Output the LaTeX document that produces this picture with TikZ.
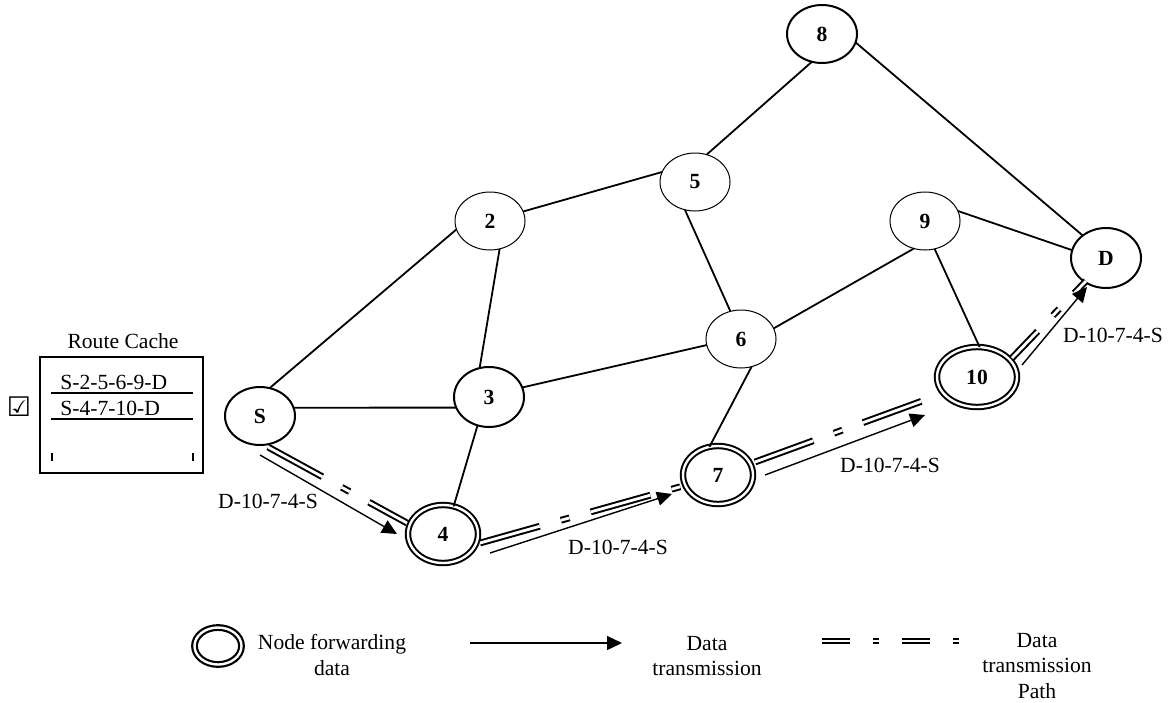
\documentclass[tikz,border=0pt]{standalone}
\usepackage{fontspec}
\setmainfont{Liberation Serif}
\newfontfamily\symbolfont{DejaVu Sans}
\usepackage{tikz}
\usetikzlibrary{arrows.meta, shapes.geometric}

\begin{document}
\begin{tikzpicture}[
  x=0.5pt, y=-0.5pt,
  font=\fontsize{10.8pt}{12.6pt}\selectfont,
  host/.style={ellipse, draw, line width=1pt, minimum width=35pt, minimum height=29pt,
               inner sep=0pt, outer sep=0pt, font=\fontsize{10.8pt}{12.6pt}\selectfont\bfseries},
  thinhost/.style={host, line width=0.5pt},
  relay/.style={host, double, double distance=1.2pt},
  link/.style={line width=0.9pt},
  route/.style={double, line width=1pt, double distance=1.4pt,
                dash pattern=on 31pt off 11pt on 4.5pt off 11pt},
  hop/.style={line width=0.7pt, -{Triangle[length=7.5pt, width=7pt]}},
  hoplabel/.style={inner sep=0pt}
]
\useasboundingbox (0,0) rectangle (1170,702);

% network nodes
\node[host]     (src) at (260,416) {S};
\node[thinhost] (n2)  at (490,221) {2};
\node[host, minimum height=30pt] (n3) at (489,397) {3};
\node[relay]    (n4)  at (443,534) {4};
\node[thinhost] (n5)  at (695,182) {5};
\node[thinhost] (n6)  at (741,339) {6};
\node[relay]    (n7)  at (718,475) {7};
\node[host]     (n8)  at (822,34)  {8};
\node[thinhost] (n9)  at (925,221) {9};
\node[relay, minimum width=40pt, minimum height=30pt] (n10) at (977,377) {10};
\node[host, minimum height=30pt] (dst) at (1106,258) {D};

% links
\draw[link] (src.71)  -- (n2.194);
\draw[link] (src.14)  -- (n3.198);
\draw[link] (n2.-71)  -- (n3.108);
\draw[link] (n3.-112) -- (n4.69);
\draw[link] (n3.16)   -- (n6.190);
\draw[link] (n2.16)   -- (n5.163);
\draw[link] (n5.67)   -- (n8.-110);
\draw[link] (n5.-110) -- (n6.111);
\draw[link] (n6.18)   -- (n9.-112);
\draw[link] (n6.-69)  -- (n7.107);
\draw[link] (n9.-71)  -- (n10.85);
\draw[link] (n9.17)   -- (dst.167);
\draw[link] (n8.-14)  -- (dst.136);

% data path S-4-7-10-D
\draw[route] ([shift={(8,31)}]src.center)  -- ([shift={(-36,-11)}]n4.center);
\draw[hop]   ([shift={(0,39)}]src.center)  -- ([shift={(-46,0)}]n4.center);
\draw[route] ([shift={(37,9)}]n4.center)   -- ([shift={(-35,11)}]n7.center);
\draw[hop]   ([shift={(47,19)}]n4.center)  -- ([shift={(-46,19)}]n7.center);
\draw[route] ([shift={(37,-13)}]n7.center) -- ([shift={(-52,23)}]n10.center);
\draw[hop]   ([shift={(47,0)}]n7.center)   -- ([shift={(-52,38)}]n10.center);
\draw[route, dash phase=12.5pt] ([shift={(35,-19)}]n10.center) -- ([shift={(-20,23)}]dst.center);
\draw[hop]   ([shift={(45,-12)}]n10.center) -- ([shift={(-19,29)}]dst.center);

\node[hoplabel] (lab1) at (268,501)  {D-10-7-4-S};
\node[hoplabel] (lab2) at (618,547)  {D-10-7-4-S};
\node[hoplabel] (lab3) at (890,465)  {D-10-7-4-S};
\node[hoplabel] (lab4) at (1113,335) {D-10-7-4-S};

% route cache
\node (cachetitle) at (123,341) {Route Cache};
\node[draw, line width=1pt, minimum width=81.5pt, minimum height=58pt, inner sep=0pt] (cache) at (121.5,415) {};
\node[hoplabel, anchor=west] (entry1) at (60,382) {S-2-5-6-9-D};
\node[hoplabel, anchor=west] (entry2) at (60,408) {S-4-7-10-D};
\draw[link] (51,393) -- (193,393);
\draw[link] (51,419) -- (193,419);
\draw[line width=1pt] (52,453) -- (52,461);
\draw[line width=1pt] (193,453) -- (193,461);
\node[inner sep=0pt] (tick) at (19,407) {\fontsize{13.5pt}{14pt}\symbolfont ☑};

% legend
\node[relay, minimum width=23.5pt, minimum height=18.5pt, line width=1.1pt] (keynode) at (218,646) {};
\node[align=center] (keynodetext) at (332,655) {Node forwarding\\data};
\coordinate (keyfrom) at (470,643);
\coordinate (keyto) at (622,643);
\draw[hop] (keyfrom) -- (keyto);
\node[align=center] (keyhoptext) at (707,656) {Data\\transmission};
\coordinate (pathfrom) at (822,641);
\coordinate (pathto) at (960,641);
\draw[route, dash pattern=on 14pt off 11.5pt on 3pt off 11.5pt] (pathfrom) -- (pathto);
\node[align=center] (keyroutetext) at (1037,666) {Data\\transmission\\Path};
\end{tikzpicture}
\end{document}
